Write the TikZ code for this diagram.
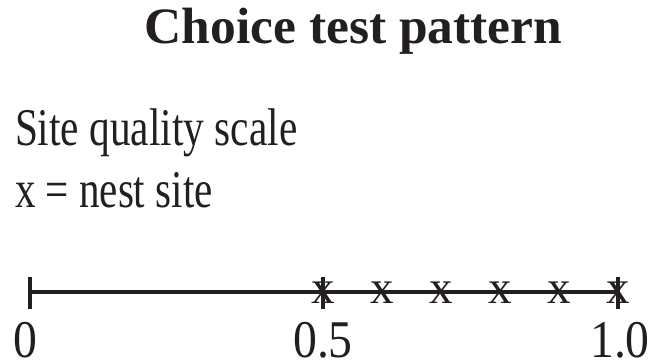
\documentclass[tikz,border=0pt]{standalone}
\usepackage{fontspec}
\setmainfont{Liberation Serif}
\definecolor{ink}{HTML}{231F20}
\begin{document}
\begin{tikzpicture}[x=1pt,y=-1pt,
  txt/.style={inner sep=0pt,outer sep=0pt,text=ink},
  big/.style={txt,font=\fontsize{53}{60}\selectfont},
  nestmark/.style={txt,font=\fontsize{47}{56}\selectfont},
  axis/.style={draw=ink,line width=3.5pt},
  tickln/.style={draw=ink,line width=3.5pt}]
\useasboundingbox (0,0) rectangle (656,364);
% title
\node[txt,font=\bfseries\fontsize{51}{60}\selectfont,anchor=base] (title) at (353.5,43) {\scalebox{1.01}[1]{Choice test pattern}};
% legend
\node[big,anchor=base west] (scale) at (15,145) {\scalebox{0.78}[1]{Site quality scale}};
\node[big,anchor=base west] (legend) at (15,207) {\scalebox{0.775}[1]{x = nest site}};
% axis
\coordinate (a0) at (30,292);
\coordinate (a5) at (323,292);
\coordinate (a10) at (618,292);
% nest sites
\foreach \i in {0,...,5} {
  \node[nestmark] (m\i) at (323+59*\i,293) {x};
}
\draw[axis] (a0) -- (a10);
\draw[tickln] ([yshift=-17pt]a0) -- ([yshift=15pt]a0);
\draw[tickln] ([yshift=-17pt]a5) -- ([yshift=15pt]a5);
\draw[tickln] ([yshift=-17pt]a10) -- ([yshift=15pt]a10);
% labels
\node[big,anchor=base] (l0) at (25,357) {\scalebox{0.9}[1]{0}};
\node[big,anchor=base] (l5) at (323,357) {\scalebox{0.9}[1]{0.5}};
\node[big,anchor=base] (l10) at (620,357) {\scalebox{0.9}[1]{1.0}};
\end{tikzpicture}
\end{document}
